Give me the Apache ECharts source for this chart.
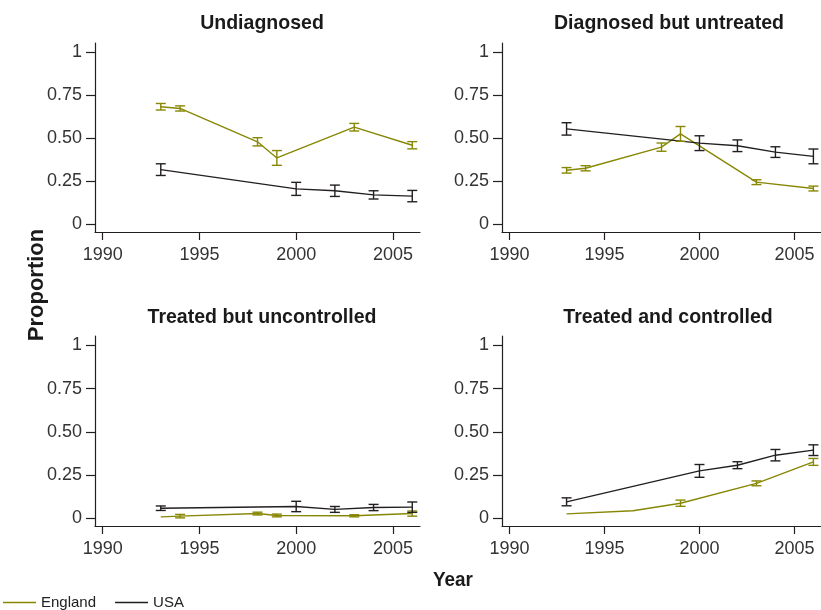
<!DOCTYPE html>
<html>
<head>
<meta charset="utf-8">
<script src="https://cdn.jsdelivr.net/npm/echarts@6/dist/echarts.min.js"></script>
<style>
html,body{margin:0;padding:0;background:#fff;}
#chart{width:821px;height:610px;}
</style>
</head>
<body>
<div id="chart"></div>
<script>
// ---- data ----
const panelTitles = ['Undiagnosed', 'Diagnosed but untreated', 'Treated but uncontrolled', 'Treated and controlled'];
const seriesNames = ['England', 'USA'];
const xTickValues = [1990, 1995, 2000, 2005];
const yTickValues = [0, 0.25, 0.5, 0.75, 1];
const yTickLabels = ['0', '0.25', '0.50', '0.75', '1'];

// Undiagnosed
const undiagEngYears = [1993, 1994, 1998, 1999, 2003, 2006];
const undiagEngVals  = [0.684, 0.674, 0.480, 0.386, 0.565, 0.460];
const undiagEngErr   = [0.019, 0.015, 0.024, 0.043, 0.022, 0.021];
const undiagUsaYears = [1993, 2000, 2002, 2004, 2006];
const undiagUsaVals  = [0.318, 0.206, 0.195, 0.171, 0.164];
const undiagUsaErr   = [0.034, 0.038, 0.033, 0.024, 0.033];

// Diagnosed but untreated
const untreatEngYears = [1993, 1994, 1998, 1999, 2003, 2006];
const untreatEngVals  = [0.314, 0.326, 0.449, 0.526, 0.245, 0.208];
const untreatEngErr   = [0.016, 0.015, 0.024, 0.043, 0.014, 0.014];
const untreatUsaYears = [1993, 2000, 2002, 2004, 2006];
const untreatUsaVals  = [0.555, 0.472, 0.457, 0.420, 0.395];
const untreatUsaErr   = [0.036, 0.043, 0.034, 0.031, 0.043];

// Treated but uncontrolled
const uncontEngYears = [1993, 1994, 1998, 1999, 2003, 2006];
const uncontEngVals  = [0.008, 0.012, 0.027, 0.016, 0.014, 0.027];
const uncontEngErr   = [0.000, 0.010, 0.008, 0.008, 0.006, 0.015];
const uncontUsaYears = [1993, 2000, 2002, 2004, 2006];
const uncontUsaVals  = [0.058, 0.068, 0.051, 0.062, 0.064];
const uncontUsaErr   = [0.013, 0.030, 0.017, 0.018, 0.030];

// Treated and controlled
const contEngYears = [1993, 1996.5, 1999, 2003, 2006];
const contEngVals  = [0.025, 0.043, 0.087, 0.202, 0.326];
const contEngErr   = [0.000, 0.000, 0.018, 0.014, 0.020];
const contUsaYears = [1993, 2000, 2002, 2004, 2006];
const contUsaVals  = [0.095, 0.274, 0.307, 0.365, 0.394];
const contUsaErr   = [0.023, 0.037, 0.020, 0.033, 0.031];

const panelData = [
  [[undiagEngYears, undiagEngVals, undiagEngErr], [undiagUsaYears, undiagUsaVals, undiagUsaErr]],
  [[untreatEngYears, untreatEngVals, untreatEngErr], [untreatUsaYears, untreatUsaVals, untreatUsaErr]],
  [[uncontEngYears, uncontEngVals, uncontEngErr], [uncontUsaYears, uncontUsaVals, uncontUsaErr]],
  [[contEngYears, contEngVals, contEngErr], [contUsaYears, contUsaVals, contUsaErr]]
];

// ---- styling / layout ----
const FONT = "'Liberation Sans', Arial, sans-serif";
const INK = '#231f20';
const colors = ['#878705', '#231f20'];
const grids = [
  {left: 95,  top: 43,  width: 325, height: 189},
  {left: 502, top: 43,  width: 325, height: 189},
  {left: 95,  top: 336, width: 325, height: 190},
  {left: 502, top: 336, width: 325, height: 190}
];
const titleCenters = [[262, 23], [669, 23], [262, 317], [668, 317]];

const xAxes = [], yAxes = [], series = [], graphics = [];
grids.forEach((g, i) => {
  xAxes.push({
    type: 'value', gridIndex: i, min: 1989.6, max: 2006.4,
    axisLine: {show: true, onZero: false, lineStyle: {color: INK, width: 1.2}},
    axisTick: {show: true, length: 8, lineStyle: {color: INK, width: 1.2}, customValues: xTickValues},
    axisLabel: {show: true, customValues: xTickValues, margin: 14, color: '#333', fontSize: 18, fontFamily: FONT,
      formatter: v => String(v)},
    splitLine: {show: false}
  });
  yAxes.push({
    type: 'value', gridIndex: i, min: -0.045, max: 1.055,
    axisLine: {show: true, onZero: false, lineStyle: {color: INK, width: 1.2}},
    axisTick: {show: true, length: 9, lineStyle: {color: INK, width: 1.2}, customValues: yTickValues},
    axisLabel: {show: true, customValues: yTickValues, margin: 13, color: '#333', fontSize: 18, fontFamily: FONT,
      formatter: v => yTickLabels[yTickValues.indexOf(Math.round(v * 100) / 100)]},
    splitLine: {show: false}
  });
  graphics.push({
    type: 'text', x: titleCenters[i][0], y: titleCenters[i][1], scaleX: 0.93,
    style: {text: panelTitles[i], font: 'bold 21px ' + FONT, fill: '#1a1a1a', textAlign: 'center', textVerticalAlign: 'middle'}
  });
  panelData[i].forEach((sd, k) => {
    const [yrs, vals, errs] = sd;
    series.push({
      name: seriesNames[k], type: 'line', xAxisIndex: i, yAxisIndex: i,
      data: yrs.map((y, j) => [y, vals[j]]),
      showSymbol: false, symbol: 'none', color: colors[k],
      lineStyle: {color: colors[k], width: 1.4}, z: 2, silent: true
    });
    series.push({
      name: seriesNames[k] + ' CI', type: 'custom', xAxisIndex: i, yAxisIndex: i,
      data: yrs.map((y, j) => [y, vals[j] - errs[j], vals[j] + errs[j]]).filter((d, j) => errs[j] > 0),
      encode: {x: 0, y: [1, 2]}, silent: true, z: 3,
      renderItem: (params, api) => {
        const lo = api.coord([api.value(0), api.value(1)]);
        const hi = api.coord([api.value(0), api.value(2)]);
        const hw = 5;
        const st = {stroke: colors[k], lineWidth: 1.4};
        return {type: 'group', children: [
          {type: 'line', shape: {x1: lo[0], y1: lo[1], x2: hi[0], y2: hi[1]}, style: st},
          {type: 'line', shape: {x1: lo[0] - hw, y1: lo[1], x2: lo[0] + hw, y2: lo[1]}, style: st},
          {type: 'line', shape: {x1: hi[0] - hw, y1: hi[1], x2: hi[0] + hw, y2: hi[1]}, style: st}
        ]};
      }
    });
  });
});

// free-standing axis titles
graphics.push({
  type: 'text', x: 37, y: 285, rotation: Math.PI / 2,
  style: {text: 'Proportion', font: 'bold 22px ' + FONT, fill: '#1a1a1a', textAlign: 'center', textVerticalAlign: 'middle'}
});
graphics.push({
  type: 'text', x: 453, y: 580, scaleX: 0.9,
  style: {text: 'Year', font: 'bold 21px ' + FONT, fill: '#1a1a1a', textAlign: 'center', textVerticalAlign: 'middle'}
});

const chart = echarts.init(document.getElementById('chart'), null, {renderer: 'canvas'});
chart.setOption({
  animation: false,
  backgroundColor: '#fff',
  grid: grids.map(g => Object.assign({containLabel: false}, g)),
  xAxis: xAxes,
  yAxis: yAxes,
  series: series,
  graphic: graphics,
  legend: {
    data: seriesNames, left: 3, top: 595, padding: 0, icon: 'rect', itemWidth: 33, itemHeight: 1.5, itemGap: 19,
    textStyle: {fontSize: 15, fontFamily: FONT, color: '#222'}, selectedMode: false
  }
});
</script>
</body>
</html>
